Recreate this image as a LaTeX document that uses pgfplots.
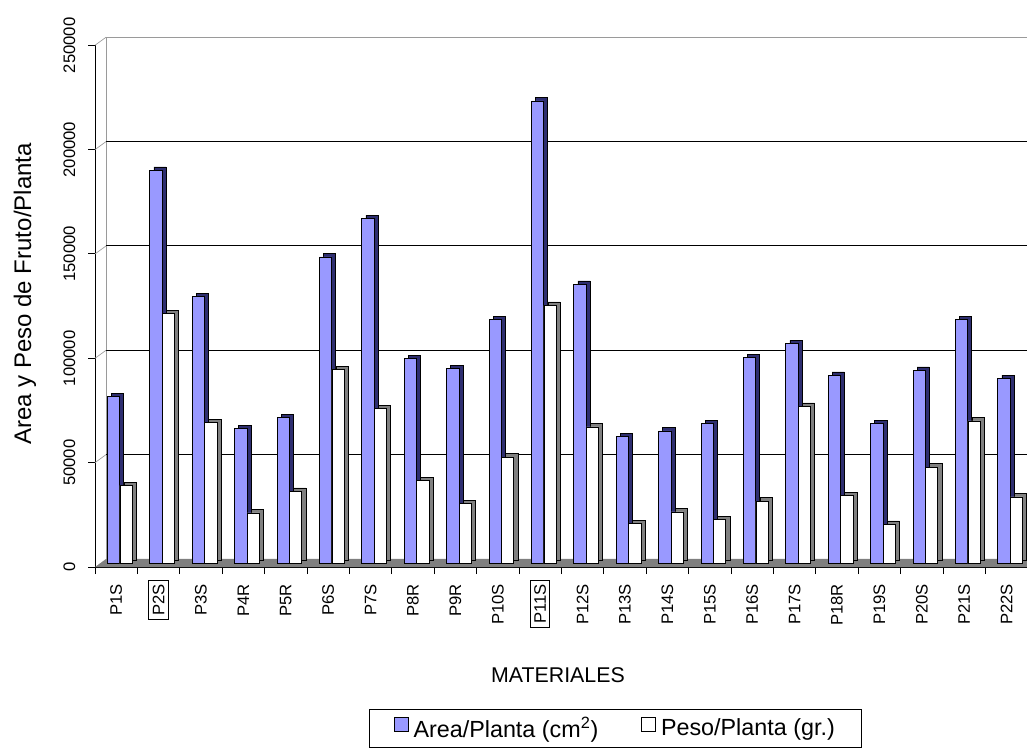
\documentclass[border=0pt]{standalone}
\usepackage{fontspec}
\setmainfont{Liberation Sans}
\usepackage{pgfplots}
\usepackage{pgfplotstable}
\pgfplotsset{compat=1.18}

\definecolor{areaface}{HTML}{9999FF}
\definecolor{areaside}{HTML}{2E2E70}
\definecolor{pesoside}{HTML}{808080}
\definecolor{floorgray}{HTML}{7F7F7F}
\definecolor{wallgray}{HTML}{9A9A9A}

% Area (cm^2) and weight (gr.) of fruit per plant, one row per material
\pgfplotstableread{
idx area   peso
0   80000  37500
1   188500 119800
2   128000 67600
3   64700  24300
4   70000  34700
5   147000 93000
6   165300 74300
7   98200  39900
8   93400  28700
9   116900 51100
10  221700 123800
11  133900 65500
12  61000  19200
13  63600  24800
14  67100  21100
15  98700  30000
16  105400 75400
17  90300  32700
18  67100  18900
19  92700  46300
20  116900 68400
21  88700  32000
}\datatable

% framed tick label whose text lines up with the unframed ones
\setlength{\fboxsep}{2.5pt}
\setlength{\fboxrule}{0.7pt}
\newcommand{\framedlabel}[1]{\fbox{#1}\kern-3.2pt}

\begin{document}
\begin{tikzpicture}
\path[use as bounding box] (0,0) rectangle (770.25pt,561.75pt);
\begin{axis}[
  at={(71.25pt,136.5pt)}, anchor=south west,
  scale only axis, width=699.6pt, height=391.3pt,
  xmin=-0.5, xmax=21.5, ymin=0, ymax=250000,
  clip=false,
  axis x line*=bottom, axis y line*=left,
  axis line style={black, line width=0.7pt, -},
  xtick={0,...,21},
  xticklabels={P1S,\framedlabel{P2S},P3S,P4R,P5R,P6S,P7S,P8R,P9R,P10S,\framedlabel{P11S},P12S,P13S,P14S,P15S,P16S,P17S,P18R,P19S,P20S,P21S,P22S},
  minor xtick={-0.5,0.5,...,21.5},
  major x tick style={draw=none},
  minor x tick style={black, line width=0.7pt},
  minor tick length=5.25pt,
  scaled y ticks=false,
  ytick={0,50000,100000,150000,200000,250000},
  yticklabels={0,50000,100000,150000,200000,250000},
  y tick style={black, line width=0.7pt},
  major tick length=5.25pt,
  tick align=outside,
  yticklabel shift=6pt,
  xticklabel shift=4pt,
  yticklabel style={rotate=90, anchor=south, font=\fontsize{12.5}{14}\selectfont},
  xticklabel style={rotate=90, anchor=east, font=\fontsize{12.5}{14}\selectfont},
  legend style={at={(0.558,-0.272)}, anchor=north, legend columns=2,
    draw=black, line width=0.7pt, font=\fontsize{17.5}{20}\selectfont,
    inner xsep=18pt, inner ysep=4pt,
    /tikz/every odd column/.append style={column sep=2pt},
    /tikz/every even column/.append style={column sep=30pt}},
]
% floor of the chart
\fill[floorgray] (axis cs:-0.5,0) -- (axis cs:21.5,0) -- ++(8.25pt,6pt)
  -- ([shift={(8.25pt,6pt)}]axis cs:-0.5,0) -- cycle;
% back wall: left edge, top edge and gridlines
\draw[wallgray, line width=0.6pt] ([shift={(8.25pt,6pt)}]axis cs:-0.5,0) -- ([shift={(8.25pt,6pt)}]axis cs:-0.5,250000)
  -- ([shift={(8.25pt,6pt)}]axis cs:21.5,250000);
\draw[black, line width=0.75pt] ([shift={(8.25pt,6pt)}]axis cs:-0.5,50000) -- ([shift={(8.25pt,6pt)}]axis cs:21.5,50000);
\draw[black, line width=0.75pt] ([shift={(8.25pt,6pt)}]axis cs:-0.5,100000) -- ([shift={(8.25pt,6pt)}]axis cs:21.5,100000);
\draw[black, line width=0.75pt] ([shift={(8.25pt,6pt)}]axis cs:-0.5,150000) -- ([shift={(8.25pt,6pt)}]axis cs:21.5,150000);
\draw[black, line width=0.75pt] ([shift={(8.25pt,6pt)}]axis cs:-0.5,200000) -- ([shift={(8.25pt,6pt)}]axis cs:21.5,200000);
\draw[wallgray, line width=0.5pt] (axis cs:-0.5,50000) -- ++(8.25pt,6pt);
\draw[wallgray, line width=0.5pt] (axis cs:-0.5,100000) -- ++(8.25pt,6pt);
\draw[wallgray, line width=0.5pt] (axis cs:-0.5,150000) -- ++(8.25pt,6pt);
\draw[wallgray, line width=0.5pt] (axis cs:-0.5,200000) -- ++(8.25pt,6pt);
\draw[wallgray, line width=0.5pt] (axis cs:-0.5,250000) -- ++(8.25pt,6pt);

% Area/Planta: depth block, then front face
\addplot[ybar, bar width=9.2pt, bar shift=-2pt, fill=areaside, draw=black, line width=0.4pt,
  xshift=3pt, yshift=5pt, forget plot] table[x=idx, y=area] {\datatable};
\addplot[ybar, bar width=9.2pt, bar shift=-2pt, fill=areaface, draw=black, line width=0.5pt,
  yshift=2.5pt,
  legend image code/.code={\draw[fill=areaface, draw=black, line width=0.5pt] (0pt,-4.5pt) rectangle (10.5pt,6pt);}]
  table[x=idx, y=area] {\datatable};
\addlegendentry{Area/Planta (cm\textsuperscript{2})}
% Peso/Planta: depth block, then front face
\addplot[ybar, bar width=9.2pt, bar shift=7.4pt, fill=pesoside, draw=black, line width=0.4pt,
  xshift=3pt, yshift=5pt, forget plot] table[x=idx, y=peso] {\datatable};
\addplot[ybar, bar width=9.2pt, bar shift=7.4pt, fill=white, draw=black, line width=0.5pt,
  yshift=2.5pt,
  legend image code/.code={\draw[fill=white, draw=black, line width=0.5pt] (0pt,-4.5pt) rectangle (10.5pt,6pt);}]
  table[x=idx, y=peso] {\datatable};
\addlegendentry{Peso/Planta (gr.)}
\end{axis}
\node[rotate=90, font=\fontsize{18}{21}\selectfont] at (18.75pt,341.25pt) {Area y Peso de Fruto/Planta};
\node[font=\fontsize{16}{19}\selectfont] at (418.5pt,55.5pt) {MATERIALES};
\end{tikzpicture}
\end{document}
